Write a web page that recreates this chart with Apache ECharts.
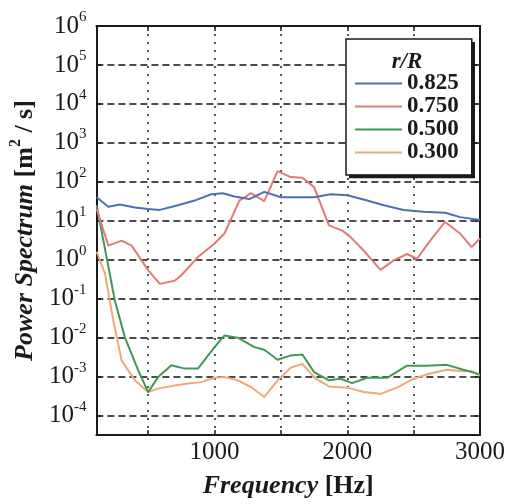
<!DOCTYPE html>
<html>
<head>
<meta charset="utf-8">
<script src="https://cdn.jsdelivr.net/npm/echarts@6/dist/echarts.min.js"></script>
<style>
  html, body { margin: 0; padding: 0; background: #fff; }
  #chart { width: 517px; height: 504px; }
</style>
</head>
<body>
<div id="chart"></div>
<script>
// r/R stations shown in the legend
const seriesNames = ['0.825', '0.750', '0.500', '0.300'];

// Frequency [Hz] and power spectrum [m^2/s] for each station
const freq825 = [112, 200, 287, 400, 500, 587, 725, 850, 975, 1062, 1150, 1262, 1375, 1500, 1750, 1875, 2000, 2150, 2275, 2425, 2575, 2737, 2850, 3000];
const psd825  = [40, 23, 26, 22, 20, 19, 25, 33, 48, 51, 42, 36, 55, 40, 40, 48, 45, 33, 25, 19, 17, 16, 12.4, 10.5];

const freq750 = [112, 200, 300, 375, 500, 587, 700, 750, 875, 1000, 1075, 1187, 1275, 1375, 1475, 1575, 1662, 1750, 1862, 1962, 2025, 2125, 2250, 2350, 2450, 2525, 2625, 2737, 2850, 2937, 3000];
const psd750  = [20, 2.3, 3.1, 2.3, 0.54, 0.24, 0.29, 0.4, 1.17, 2.6, 4.7, 33, 51, 32, 189, 132, 127, 73, 7.6, 5.6, 3.8, 1.7, 0.55, 0.96, 1.4, 1.06, 3.1, 9.3, 4.7, 2.1, 3.5];

const freq500 = [112, 249, 324, 425, 500, 575, 675, 775, 875, 1000, 1075, 1175, 1300, 1375, 1475, 1575, 1662, 1750, 1862, 1950, 2037, 2150, 2300, 2450, 2600, 2750, 2875, 3000];
const psd500  = [25, 0.09, 0.0103, 0.00144, 0.0004, 0.00097, 0.00195, 0.0016, 0.0016, 0.0057, 0.0114, 0.010, 0.0057, 0.0049, 0.0027, 0.0035, 0.0037, 0.0013, 0.0008, 0.00088, 0.00068, 0.00093, 0.00093, 0.0019, 0.0019, 0.002, 0.0015, 0.00114];

const freq300 = [112, 175, 237, 300, 400, 500, 575, 700, 800, 900, 1000, 1075, 1175, 1275, 1375, 1475, 1575, 1662, 1762, 1862, 2000, 2125, 2250, 2375, 2500, 2625, 2750, 2850, 2930, 3000];
const psd300  = [1.6, 0.44, 0.028, 0.0026, 0.0008, 0.0004, 0.00049, 0.00059, 0.00066, 0.00072, 0.00093, 0.00097, 0.0008, 0.00054, 0.0003, 0.0008, 0.0017, 0.0021, 0.00088, 0.00056, 0.00052, 0.0004, 0.00036, 0.00052, 0.00088, 0.0012, 0.0015, 0.0014, 0.0014, 0.00107];

// Axis ticks and labels
const xTickValues  = [500, 1000, 1500, 2000, 2500, 3000];
const xLabelValues = [1000, 2000, 3000];
const yTickValues  = [1e-4, 1e-3, 1e-2, 1e-1, 1e0, 1e1, 1e2, 1e3, 1e4, 1e5, 1e6];

const colors = ['#4a72b0', '#e07b78', '#3f9a58', '#f2a878'];
const serif = '"Liberation Serif", "Times New Roman", serif';
const ink = '#1a1a1a';

const freqs = [freq825, freq750, freq500, freq300];
const psds  = [psd825, psd750, psd500, psd300];

function pairs(f, v) { return f.map((x, i) => [x, v[i]]); }

const chart = echarts.init(document.getElementById('chart'), null, { renderer: 'canvas' });

const xBase = {
  type: 'value',
  min: 110,
  max: 3000,
  axisLine: { show: true, onZero: false, lineStyle: { color: ink, width: 2 } },
  axisTick: { show: true, inside: true, length: 5, customValues: xTickValues, lineStyle: { color: ink, width: 1.5 } },
};
const yBase = {
  type: 'log',
  logBase: 10,
  min: Math.pow(10, -4.5),
  max: 1e6,
  axisLine: { show: true, onZero: false, lineStyle: { color: ink, width: 2 } },
  axisTick: { show: true, inside: true, length: 5, customValues: yTickValues, lineStyle: { color: ink, width: 1.5 } },
};

// Legend panel: white background, thin outline, heavy right/bottom edge
const boxX = 346, boxY = 39;
const padT = 33, padR = 13, padB = 11, padL = 9;

function frameElements(x, y, w, h) {
  return [
    {
      id: 'legendEdge',
      type: 'polyline', z: 30,
      shape: { points: [[x + w + 1.5, y + 3], [x + w + 1.5, y + h + 1.5], [x + 3, y + h + 1.5]] },
      style: { fill: null, stroke: ink, lineWidth: 3.5 }
    },
    {
      id: 'legendOutline',
      type: 'rect', z: 31,
      shape: { x: x, y: y, width: w, height: h },
      style: { fill: null, stroke: ink, lineWidth: 1.5 }
    }
  ];
}

chart.setOption({
  backgroundColor: '#fff',
  animation: false,
  grid: { left: 95, right: 37, top: 26, bottom: 68, containLabel: false },
  xAxis: [
    Object.assign({}, xBase, {
      position: 'bottom',
      name: '{i|Frequency} {b|[Hz]}',
      nameLocation: 'middle',
      nameGap: 38,
      nameTextStyle: {
        fontFamily: serif, fontSize: 26, color: ink,
        rich: {
          i: { fontFamily: serif, fontSize: 26, fontStyle: 'italic', fontWeight: 'bold', color: ink },
          b: { fontFamily: serif, fontSize: 26, fontWeight: 'bold', color: ink }
        }
      },
      axisLabel: {
        customValues: xLabelValues,
        margin: 5,
        fontFamily: serif, fontSize: 25, color: ink,
        formatter: v => String(v)
      },
      splitLine: { show: true, lineStyle: { color: '#222', width: 1.5, type: [2, 6] } }
    }),
    Object.assign({}, xBase, {
      position: 'top',
      axisLabel: { show: false },
      splitLine: { show: false }
    })
  ],
  yAxis: [
    Object.assign({}, yBase, {
      position: 'left',
      name: '{i|Power Spectrum} {b|[m}{s|2}{b| / s]}',
      nameLocation: 'middle',
      nameGap: 52,
      nameRotate: 90,
      nameTextStyle: {
        fontFamily: serif, fontSize: 26, color: ink,
        rich: {
          i: { fontFamily: serif, fontSize: 26, fontStyle: 'italic', fontWeight: 'bold', color: ink, lineHeight: 34 },
          b: { fontFamily: serif, fontSize: 26, fontWeight: 'bold', color: ink, lineHeight: 34 },
          s: { fontFamily: serif, fontSize: 16, fontWeight: 'bold', color: ink, lineHeight: 16, verticalAlign: 'top' }
        }
      },
      axisLabel: {
        customValues: yTickValues,
        margin: 10,
        formatter: v => '{b|10}{e|' + Math.round(Math.log10(v)) + '}',
        rich: {
          b: { fontFamily: serif, fontSize: 25, color: ink, lineHeight: 32 },
          e: { fontFamily: serif, fontSize: 15, color: ink, lineHeight: 15, verticalAlign: 'top' }
        }
      },
      splitLine: { show: true, lineStyle: { color: '#111', width: 1.5, type: [7, 4] } }
    }),
    Object.assign({}, yBase, {
      position: 'right',
      axisLabel: { show: false },
      splitLine: { show: false }
    })
  ],
  legend: {
    orient: 'vertical',
    left: boxX,
    top: boxY,
    z: 20,
    padding: [padT, padR, padB, padL],
    backgroundColor: '#fff',
    borderWidth: 0,
    icon: 'rect',
    itemWidth: 47,
    itemHeight: 2,
    itemGap: 0,
    data: seriesNames,
    textStyle: { fontFamily: serif, fontSize: 23, fontWeight: 'bold', color: ink, lineHeight: 21.7 }
  },
  graphic: {
    elements: frameElements(boxX, boxY, 124, 131).concat([
      {
        type: 'text', z: 30,
        x: 407, y: 62,
        style: {
          text: 'r/R',
          fontFamily: serif, fontSize: 23, fontStyle: 'italic', fontWeight: 'bold',
          fill: ink, textAlign: 'center', textVerticalAlign: 'middle'
        }
      }
    ])
  },
  series: seriesNames.map((name, k) => ({
    name,
    type: 'line',
    xAxisIndex: 0,
    yAxisIndex: 0,
    data: pairs(freqs[k], psds[k]),
    showSymbol: false,
    symbol: 'none',
    lineStyle: { color: colors[k], width: 2 },
    itemStyle: { color: colors[k] },
    z: 3 + (3 - k)
  }))
});

// Fit the frame to the legend's actual box
const legendView = chart.getViewOfComponentModel(chart.getModel().getComponent('legend'));
if (legendView && legendView.group) {
  const r = legendView.group.getBoundingRect();
  const gx = legendView.group.x, gy = legendView.group.y;
  chart.setOption({
    graphic: { elements: frameElements(gx + r.x, gy + r.y, r.width, r.height) }
  });
}
</script>
</body>
</html>
